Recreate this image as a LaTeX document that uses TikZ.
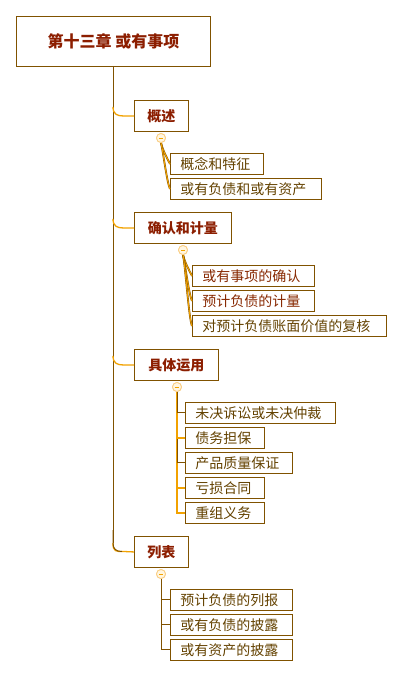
\documentclass[tikz,border=0pt]{standalone}
\usepackage{fontspec}
\usetikzlibrary{calc}
\setmainfont{Noto Sans CJK SC}
\definecolor{bord}{RGB}{128,82,0}
\definecolor{org}{RGB}{242,162,0}
\definecolor{ttl}{RGB}{140,30,0}
\definecolor{kid}{RGB}{100,66,0}
\definecolor{kidr}{RGB}{135,40,0}
\definecolor{circf}{RGB}{255,246,225}
\definecolor{circd}{RGB}{250,205,130}
\begin{document}
\begin{tikzpicture}[x=1pt,y=-1pt,
  rootbox/.style={draw=bord,line width=0.9pt,fill=white,anchor=north west,inner sep=0pt,
    minimum width=194pt,minimum height=50pt,text=ttl,font=\fontsize{16}{16}\selectfont\bfseries},
  topbox/.style={draw=bord,line width=0.9pt,fill=white,anchor=north west,inner sep=0pt,
    minimum height=31pt,text=ttl,font=\fontsize{14}{14}\selectfont\bfseries},
  kidbox/.style={draw=bord,line width=0.9pt,fill=white,anchor=north west,inner ysep=0pt,inner xsep=10pt,
    minimum height=21pt,text width=#1,align=left,text=kid,font=\fontsize{14}{14}\selectfont},
  tog/.style={circle,draw=circd,fill=circf,line width=0.8pt,minimum size=9pt,inner sep=0pt},
  trunk/.style={draw=bord,line width=1pt},
  brbr/.style={draw=org,line width=1.3pt},
  fanb/.style={draw=bord,line width=1.8pt},
  fano/.style={draw=org,line width=1pt},
  tickb/.style={draw=bord,line width=1pt},
  ticko/.style={draw=org,line width=1.2pt},
]
\useasboundingbox (0,0) rectangle (402,677);
\fill[white] (0,0) rectangle (402,677);

% root
\node[rootbox] (root) at (16,16) {第十三章 或有事项};

% level 1
\node[topbox,minimum width=54pt] (a) at (134,100) {概述};
\node[topbox,minimum width=97pt] (b) at (134,212) {确认和计量};
\node[topbox,minimum width=84pt] (c) at (134,349) {具体运用};
\node[topbox,minimum width=54pt] (d) at (134,536) {列表};

% trunk
\coordinate (tb) at (113,66);
\coordinate (te) at (113,543);
\draw[trunk] (tb) -- (te);
\draw[brbr] (113,543) .. controls (113,552) and (116,551.5) .. (124,551.5) -- (d.west);
\draw[trunk] (113,530) -- (113,543) .. controls (113,549) and (116,551.5) .. (122,551.5);
\foreach \n in {a,b,c}{
  \draw[brbr] (113,0 |- \n.west) ++(0,-9) .. controls +(0,7) and +(-6,0) .. ++(10,9) -- (\n.west);
}

% children of a
\node[kidbox=73pt] (a1) at (170,153) {概念和特征};
\node[kidbox=131pt] (a2) at (170,178) {或有负债和或有资产};
% children of b
\node[kidbox=102pt,text=kidr] (b1) at (192,265) {或有事项的确认};
\node[kidbox=102pt,text=kidr] (b2) at (192,290) {预计负债的计量};
\node[kidbox=174pt] (b3) at (192,315) {对预计负债账面价值的复核};
% children of c
\node[kidbox=130pt] (c1) at (185,402) {未决诉讼或未决仲裁};
\node[kidbox=59pt] (c2) at (185,427) {债务担保};
\node[kidbox=87pt] (c3) at (185,452) {产品质量保证};
\node[kidbox=59pt] (c4) at (185,477) {亏损合同};
\node[kidbox=59pt] (c5) at (185,502) {重组义务};
% children of d
\node[kidbox=102pt] (d1) at (170,589) {预计负债的列报};
\node[kidbox=102pt] (d2) at (170,614) {或有负债的披露};
\node[kidbox=102pt] (d3) at (170,639) {或有资产的披露};

% toggles
\node[tog] (ta) at (161,138) {};
\node[tog] (tb2) at (183,250) {};
\node[tog] (tc) at (177,387) {};
\node[tog] (td) at (161,574) {};

% fans
\foreach \k in {a1,a2}{
  \draw[fanb] (ta.south) .. controls +(2,8) and +(-3,-6) .. (\k.west);
  \draw[fano] (ta.south) .. controls +(2,8) and +(-3,-6) .. (\k.west);
}
\foreach \k in {b1,b2,b3}{
  \draw[fanb] (tb2.south) .. controls +(2,8) and +(-3,-6) .. (\k.west);
  \draw[fano] (tb2.south) .. controls +(2,8) and +(-3,-6) .. (\k.west);
}

% orthogonal trees
\draw[ticko] (tc.south) |- (c5.west);
\draw[ticko] (tc.south) |- (c4.west);
\draw[tickb] (tc.south) |- (c3.west);
\draw[ticko] (tc.south) |- (c2.west);
\draw[tickb] (tc.south) |- (c1.west);
\foreach \k in {d3,d2,d1}{
  \draw[tickb] (td.south) |- (\k.west);
}

% redraw toggles on top
\foreach \t in {ta,tb2,tc,td}{
  \fill[circf] (\t) circle (4.5);
  \draw[circd,line width=0.8pt] (\t) circle (4.5);
  \draw[org,line width=0.8pt] ($(\t)+(-2.2,0)$) -- ($(\t)+(2.2,0)$);
}
\end{tikzpicture}
\end{document}
